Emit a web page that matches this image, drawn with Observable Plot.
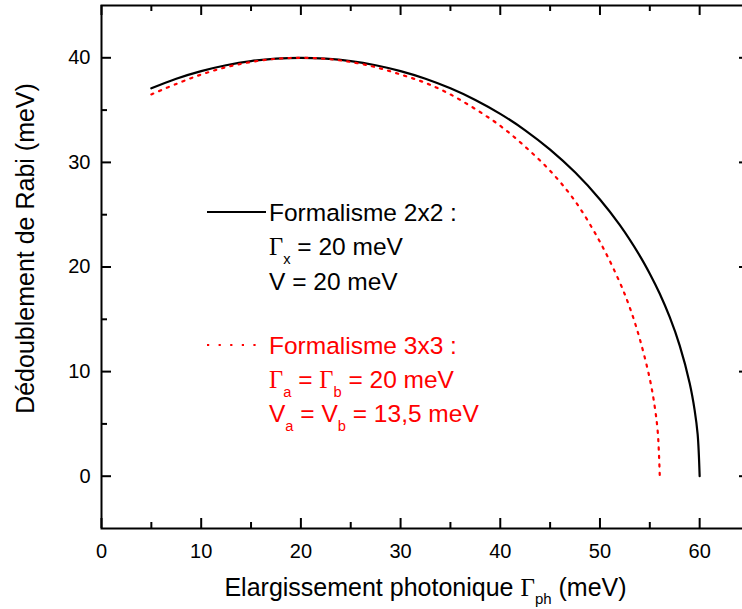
<!DOCTYPE html>
<html>
<head>
<meta charset="utf-8">
<script src="https://cdn.jsdelivr.net/npm/d3@7"></script>
<script src="https://cdn.jsdelivr.net/npm/@observablehq/plot@0.6"></script>
<style>
  html, body { margin: 0; padding: 0; background: white; overflow: hidden; }
  #chart { width: 742px; height: 609px; overflow: hidden; }
</style>
</head>
<body>
<div id="chart"></div>
<script>
// ---- Data ----
// Formalisme 2x2 (black solid)
const gammaPh2 = [5, 7.5, 10, 12.5, 15, 17.5, 20, 22.5, 25, 27.5, 30, 32.5, 35, 37.5, 40, 42.5, 45, 47.5, 50, 52, 54, 55, 56, 57, 58, 59, 59.5, 59.8, 60];
const rabi2    = [37.08, 38.00, 38.73, 39.29, 39.69, 39.92, 40, 39.92, 39.69, 39.29, 38.73, 38.00, 37.08, 35.97, 34.64, 33.07, 31.22, 29.05, 26.46, 24.00, 21.07, 19.36, 17.44, 15.20, 12.49, 8.89, 6.30, 3.99, 0];
// Formalisme 3x3 (red dotted)
const gammaPh3 = [5, 7.5, 10, 12.5, 15, 17.5, 20, 22.5, 25, 27.5, 30, 32.5, 35, 37.5, 40, 42.5, 45, 47.5, 50, 52, 53, 54, 55, 55.5, 55.8, 56];
const rabi3    = [36.5, 37.5, 38.4, 39.1, 39.6, 39.9, 40, 39.9, 39.6, 39.1, 38.4, 37.6, 36.5, 35.1, 33.5, 31.5, 29.2, 26.3, 22.4, 18.5, 16.1, 13.1, 9.3, 6.6, 4.2, 0];

// Tick values
const xMajor = [0, 10, 20, 30, 40, 50, 60];
const xMinor = [5, 15, 25, 35, 45, 55];
const yMajor = [0, 10, 20, 30, 40];
const yMinor = [5, 15, 25, 35];

// Texts
const xLabel = "Elargissement photonique Γ_{ph} (meV)";
const yLabel = "Dédoublement de Rabi (meV)";
const legend2 = ["Formalisme 2x2 :", "Γ_{x} = 20 meV", "V = 20 meV"];
const legend3 = ["Formalisme 3x3 :", "Γ_{a} = Γ_{b} = 20 meV", "V_{a} = V_{b} = 13,5 meV"];

const black = gammaPh2.map((g, i) => ({g, r: rabi2[i]}));
const red = gammaPh3.map((g, i) => ({g, r: rabi3[i]}));

const FONT = "'Liberation Sans', Arial, sans-serif";
const SERIF = "'Liberation Serif', 'Times New Roman', serif";
const plotH = 528 - 5;   // inner height in px
const plotW = 749 - 101; // inner width in px

const svg = Plot.plot({
  width: 750,
  height: 609,
  marginLeft: 101,
  marginRight: 1,
  marginTop: 5,
  marginBottom: 81,
  x: {domain: [0, 65]},
  y: {domain: [-5, 45]},
  style: {fontFamily: FONT, background: "white", color: "black", maxWidth: "none", overflow: "hidden"},
  marks: [
    Plot.line(black, {x: "g", y: "r", stroke: "black", strokeWidth: 2.2, curve: "catmull-rom"}),
    Plot.line(red, {x: "g", y: "r", stroke: "#ff0000", strokeWidth: 2.2, strokeDasharray: "2.2,6.2", curve: "catmull-rom"}),
    Plot.frame({stroke: "black", strokeWidth: 2}),
    // inward ticks, bottom/top
    Plot.ruleX(xMajor, {x: d => d, insetTop: plotH - 10, stroke: "black", strokeWidth: 2}),
    Plot.ruleX(xMinor, {x: d => d, insetTop: plotH - 6, stroke: "black", strokeWidth: 2}),
    Plot.ruleX(xMajor, {x: d => d, insetBottom: plotH - 10, stroke: "black", strokeWidth: 2}),
    Plot.ruleX(xMinor, {x: d => d, insetBottom: plotH - 6, stroke: "black", strokeWidth: 2}),
    // inward ticks, left/right
    Plot.ruleY(yMajor, {y: d => d, insetRight: plotW - 10, stroke: "black", strokeWidth: 2}),
    Plot.ruleY(yMinor, {y: d => d, insetRight: plotW - 6, stroke: "black", strokeWidth: 2}),
    Plot.ruleY(yMajor, {y: d => d, insetLeft: plotW - 10, stroke: "black", strokeWidth: 2}),
    Plot.ruleY(yMinor, {y: d => d, insetLeft: plotW - 6, stroke: "black", strokeWidth: 2}),
    Plot.axisX({ticks: xMajor, tickSize: 0, tickPadding: 15, fontSize: 20, label: null, tickFormat: d => String(d)}),
    Plot.axisY({ticks: yMajor, tickSize: 0, tickPadding: 11, fontSize: 20, label: null, tickFormat: d => String(d)}),
    Plot.text([xLabel], {text: d => d, frameAnchor: "bottom", dy: 59, fontSize: 25, fill: "black", textAnchor: "middle", lineAnchor: "middle"}),
    Plot.text([yLabel], {text: d => d, frameAnchor: "left", dx: -76, dy: -18.5, rotate: -90, fontSize: 25, fill: "black", textAnchor: "middle", lineAnchor: "middle"})
  ]
});

// Rich text: Γ in serif, _{...} as subscript
function fillRich(node, str, fontSize, shiftRatio) {
  const el = d3.select(node);
  el.text(null);
  const shift = Math.round(fontSize * shiftRatio);
  const re = /(Γ)|_\{([^}]*)\}|([^Γ_]+)/g;
  let m, shifted = false;
  while ((m = re.exec(str))) {
    const ts = el.append("tspan");
    if (m[2] !== undefined) {
      ts.text(m[2]).attr("font-size", fontSize * 0.6).attr("dy", shift);
      shifted = true;
    } else {
      ts.text(m[1] || m[3]);
      if (m[1]) ts.attr("font-family", SERIF);
      if (shifted) { ts.attr("dy", -shift); shifted = false; }
    }
  }
}

const root = d3.select(svg);
root.selectAll("text").each(function() {
  const t = this.textContent;
  if (t.includes("_{")) fillRich(this, t, 25, 0.3);
});

// Legend
const lg = root.append("g").attr("font-family", FONT).attr("font-size", 24.5).attr("text-anchor", "start");
lg.append("line").attr("x1", 207).attr("x2", 266).attr("y1", 212).attr("y2", 212)
  .attr("stroke", "black").attr("stroke-width", 2);
lg.append("line").attr("x1", 207).attr("x2", 263).attr("y1", 345).attr("y2", 345)
  .attr("stroke", "#ff0000").attr("stroke-width", 2.2).attr("stroke-dasharray", "2.2,9.4");
const base2 = [221, 255, 290];
const base3 = [354, 388, 422];
legend2.forEach((s, i) => {
  const t = lg.append("text").attr("x", 269).attr("y", base2[i]).attr("fill", "black").attr("text-anchor", "start");
  fillRich(t.node(), s, 24.5, 0.38);
});
legend3.forEach((s, i) => {
  const t = lg.append("text").attr("x", 269).attr("y", base3[i]).attr("fill", "#ff0000").attr("text-anchor", "start");
  fillRich(t.node(), s, 24.5, 0.38);
});

document.getElementById("chart").appendChild(svg);
</script>
</body>
</html>
